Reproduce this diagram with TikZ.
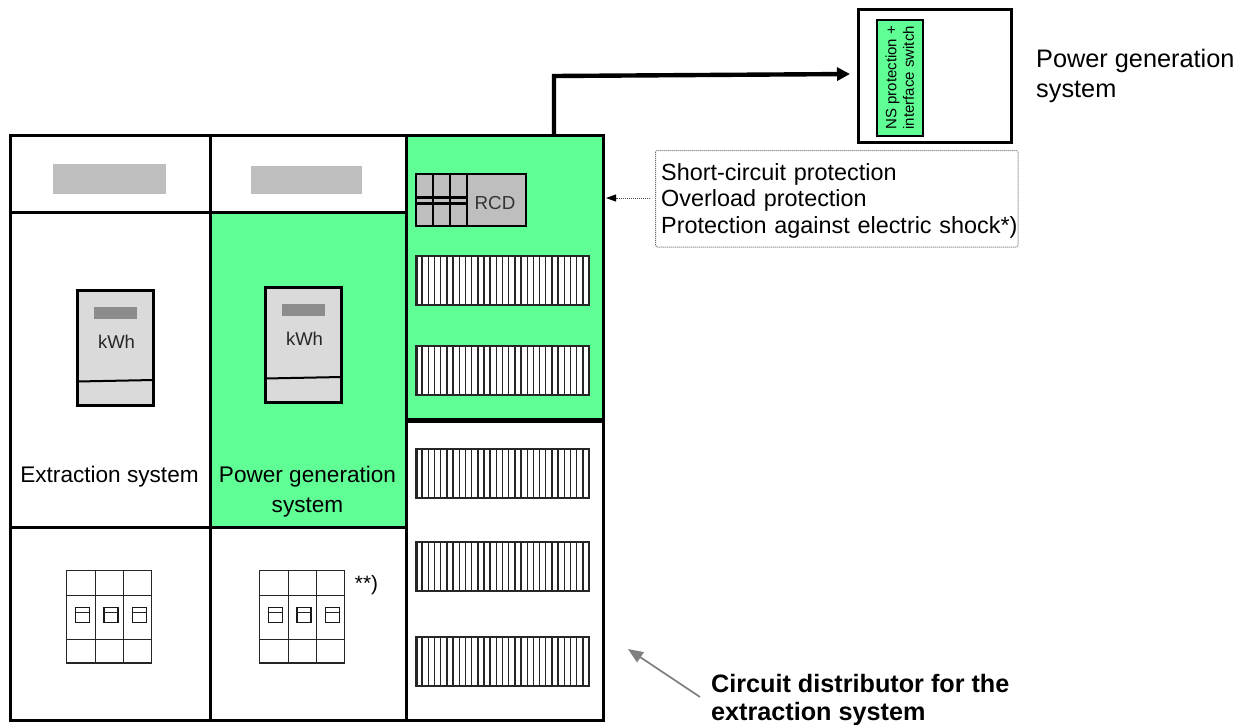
\documentclass[tikz,border=0pt]{standalone}
\usepackage{fontspec}
\setmainfont{Liberation Sans}
\usetikzlibrary{arrows.meta}
\definecolor{grn}{RGB}{96,255,150}
\definecolor{lg}{RGB}{190,190,190}
\definecolor{mg}{RGB}{218,218,218}
\definecolor{dg}{RGB}{140,140,140}
\tikzset{x=1pt,y=-1pt,
 heavy/.style={draw=black,line width=3pt},
 lbl/.style={font=\fontsize{22.6}{30}\selectfont,align=left,inner sep=0pt,text=black}}
\newcommand{\meterbox}[3]{%
 \fill[mg] (#1,#2) rectangle +(76.5,115);
 \fill[dg] (#1+17,#2+17) rectangle +(43,12);
 \draw[black,line width=2pt] (#1,#2+91.5) -- (#1+76.5,#2+90);
 \draw[black,line width=3pt] (#1,#2) rectangle +(76.5,115);
 \node[font=\fontsize{18.5}{22}\selectfont,text=black!85] at (#1+39.5,#2+52) {#3};}
\newcommand{\tblock}[2]{%
 \fill[white] (#1,#2) rectangle +(173,49);
 \foreach \i in {1,...,27} {\fill[black!85] (#1+\i*6.18-.7,#2) rectangle +(1.4,49);}
 \draw[black!85,line width=1.3pt] (#1,#2) rectangle +(173,49);
 \fill[black!85] (#1,#2) rectangle +(1.6,49);}
\newcommand{\breaker}[2]{%
 \draw[black!85,line width=1.6pt] (#1,#2) rectangle +(85,92.5);
 \draw[black!85,line width=1.6pt] (#1+29,#2) -- +(0,92.5) (#1+57,#2) -- +(0,92.5);
 \draw[black!85,line width=1.6pt] (#1,#2+25) -- +(85,0) (#1,#2+69) -- +(85,0);
 \foreach \i in {0,1,2} {
  \draw[black!90,line width=1.6pt] (#1+9+\i*28.4,#2+37) rectangle +(14,15);
  \draw[black!85,line width=1pt] (#1+9+\i*28.4,#2+42) -- +(14,0);}}
\begin{document}
\begin{tikzpicture}
\useasboundingbox (0,0) rectangle (1250,724);
\fill[white] (0,0) rectangle (1250,724);
% green fills
\fill[grn] (210,212) rectangle (406,527);
\fill[grn] (406,135) rectangle (603,418);
% grid
\draw[heavy] (10.5,135) rectangle (406,720);
\draw[heavy] (406,135) rectangle (603,720);
\draw[heavy] (210,135) -- (210,720);
\draw[heavy] (10,212) -- (406,212);
\draw[heavy] (10,527) -- (406,527);
\draw[black,line width=5pt] (406,420) -- (603,420);
% grey plates
\fill[lg] (52.5,164) rectangle (166,194);
\fill[lg] (251,166) rectangle (362,194);
% meters
\meterbox{77}{290}{kWh}
\meterbox{265}{287}{kWh}
% labels
\node[lbl,align=center] (ext) at (109.5,477) {Extraction system};
\node[lbl,align=center] (gen) at (307.5,491.5) {Power generation\\system};
% breakers
\breaker{66.5}{570.5}
\breaker{259.5}{570.5}
\node[font=\fontsize{20.8}{24}\selectfont,inner sep=0pt] (ss) at (366.5,585) {**)};
% RCD
\fill[lg] (416,174) rectangle (526,226);
\draw[black,line width=2.2pt] (416,197.5) -- (467,197.5);
\draw[black,line width=2.2pt] (416,203.5) -- (467,203.5);
\draw[black,line width=2.6pt] (416,174) rectangle (526,226);
\draw[black,line width=2.8pt] (433,174) -- (433,226) (450,174) -- (450,226) (467,174) -- (467,226);
\node[font=\fontsize{18.8}{22}\selectfont,text=black!80] (rcd) at (495,203) {RCD};
% terminal blocks
\tblock{416}{256}
\tblock{416}{346}
\tblock{416}{449}
\tblock{416}{542}
\tblock{416}{637}
% top right
\draw[black,line width=3pt] (858,9) rectangle (1011,142);
\node[draw=black,line width=1.5pt,fill=grn,minimum width=46pt,inner sep=0pt,minimum height=116pt,anchor=north west] (ns) at (876,19) {};
\node[rotate=90,font=\fontsize{15}{17.5}\selectfont,align=center,inner sep=0pt] at (ns.center) {NS protection +\\interface switch};
\coordinate (up) at (554,135);
\coordinate (dest) at (850,74);
\draw[black,line width=4.4pt,-{Triangle[length=13pt,width=13pt]}] (up) -- (554,76) -- (dest);
\node[lbl,anchor=north west,font=\fontsize{25.3}{30}\selectfont] (pgs) at (1036,49) {Power generation\\system};
% callout
\draw[black!60,densely dotted,rounded corners=1.5pt,line width=1pt] (655.5,150.5) rectangle (1018,247);
\node[anchor=north west,inner sep=0pt,text width=358pt,align=left,font=\fontsize{23.4}{26.5}\selectfont] (call) at (661,163) {Short-circuit protection\\Overload protection\\Protection against electric shock*)};
\coordinate (tip) at (606,198);
\draw[black!70,densely dotted,line width=1pt,-{Triangle[length=10pt,width=7pt,color=black]}] (650,198) -- (tip);
% bottom label
\coordinate (atip) at (628,649);
\node[lbl,anchor=north west,font=\bfseries\fontsize{25.2}{28}\selectfont] (cd) at (711,674) {Circuit distributor for the\\extraction system};
\coordinate (astart) at (700,697);
\draw[black!50,line width=1.7pt,-{Triangle[length=15pt,width=12pt]}] (astart) -- (atip);
\end{tikzpicture}
\end{document}
